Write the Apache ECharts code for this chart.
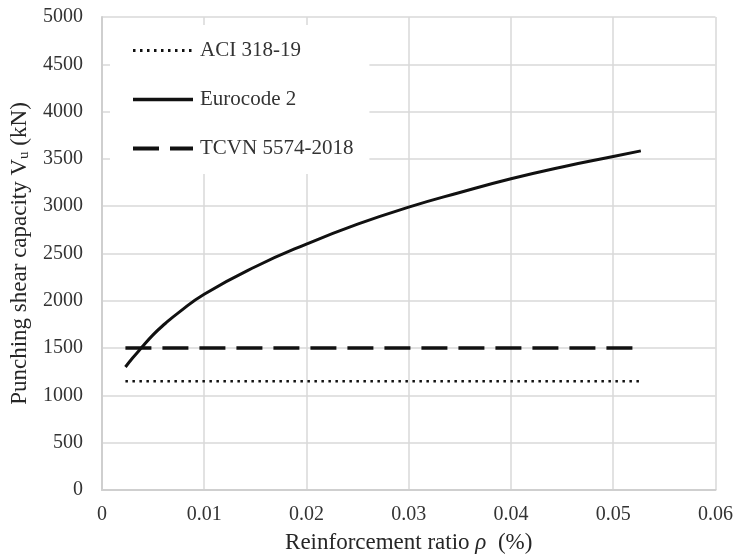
<!DOCTYPE html>
<html>
<head>
<meta charset="utf-8">
<script src="https://cdn.jsdelivr.net/npm/echarts@6/dist/echarts.min.js"></script>
<style>
  html, body { margin: 0; padding: 0; background: #ffffff; }
  #chart { width: 736px; height: 560px; }
</style>
</head>
<body>
<div id="chart"></div>
<script>
// Reinforcement ratio values (x) where each design code was evaluated
const rho = [0.0023, 0.003, 0.0038, 0.005, 0.0062, 0.0075, 0.01, 0.015, 0.02, 0.025, 0.03, 0.035, 0.04, 0.045, 0.05, 0.0527];

// Punching shear capacity per code (kN)
const eurocode2 = [1300, 1395, 1495, 1640, 1760, 1875, 2070, 2360, 2600, 2810, 2990, 3145, 3290, 3415, 3525, 3585];
const aciRange = [0.0023, 0.0527];
const aci318 = [1150, 1150];
const tcvnRange = [0.0023, 0.0527];
const tcvn5574 = [1500, 1500];

const seriesNames = ['ACI 318-19', 'Eurocode 2', 'TCVN 5574-2018'];

// Axis tick labels
const xTickLabels = ['0', '0.01', '0.02', '0.03', '0.04', '0.05', '0.06'];
const yTickLabels = ['0', '500', '1000', '1500', '2000', '2500', '3000', '3500', '4000', '4500', '5000'];

const pairs = (xs, ys) => xs.map((x, i) => [x, ys[i]]);

const serif = "'Liberation Serif', 'Times New Roman', serif";
const gridColor = '#d9d9d9';
const textColor = '#333333';
const ink = '#111111';
// point markers are never drawn; keep the legend's marker dot invisible too
const noMarker = { color: 'rgba(0,0,0,0)' };

const chart = echarts.init(document.getElementById('chart'), null, { renderer: 'canvas' });

chart.setOption({
  animation: false,
  backgroundColor: '#ffffff',
  grid: { left: 101, right: 18, top: 17, bottom: 70 },
  legend: {
    orient: 'vertical',
    left: 110,
    top: 25,
    data: [
      { name: seriesNames[0], lineStyle: { width: 3 } },
      { name: seriesNames[1], lineStyle: { width: 3.5 } },
      { name: seriesNames[2], lineStyle: { width: 4 } }
    ],
    backgroundColor: '#ffffff',
    padding: [15, 16, 15, 21],
    itemWidth: 60,
    itemHeight: 2,
    itemGap: 28,
    selectedMode: false,
    textStyle: { fontFamily: serif, fontSize: 21, color: textColor, lineHeight: 21, padding: [0, 0, 0, 2] }
  },
  xAxis: {
    type: 'value',
    min: 0,
    max: 0.06,
    interval: 0.01,
    name: '{a|Reinforcement ratio }{i|ρ}{a|  (%)}',
    nameLocation: 'middle',
    nameGap: 41,
    nameTextStyle: {
      rich: {
        a: { fontFamily: serif, fontSize: 23, color: '#262626' },
        i: { fontFamily: serif, fontSize: 23, fontStyle: 'italic', color: '#262626' }
      }
    },
    axisLine: { show: true, lineStyle: { color: '#cfcfcf', width: 2 } },
    axisTick: { show: false },
    splitLine: { show: true, lineStyle: { color: gridColor, width: 1.5 } },
    axisLabel: {
      margin: 15,
      fontFamily: serif,
      fontSize: 20,
      color: textColor,
      formatter: (v) => xTickLabels[Math.round(v / 0.01)]
    }
  },
  yAxis: {
    type: 'value',
    min: 0,
    max: 5000,
    interval: 500,
    name: '{a|Punching shear capacity V}{s|u}{a| (kN)}',
    nameLocation: 'middle',
    nameRotate: 90,
    nameGap: 56,
    nameTextStyle: {
      rich: {
        a: { fontFamily: serif, fontSize: 23, color: '#262626' },
        s: { fontFamily: serif, fontSize: 15, color: '#262626', padding: [10, 0, 0, 0] }
      }
    },
    axisLine: { show: true, lineStyle: { color: '#cfcfcf', width: 2 } },
    axisTick: { show: false },
    splitLine: { show: true, lineStyle: { color: gridColor, width: 1.5 } },
    axisLabel: {
      margin: 19,
      fontFamily: serif,
      fontSize: 20,
      color: textColor,
      formatter: (v) => yTickLabels[Math.round(v / 500)]
    }
  },
  series: [
    {
      name: seriesNames[0],
      type: 'line',
      data: pairs(aciRange, aci318),
      symbol: 'none',
      lineStyle: { color: ink, width: 2.5, type: [2.5, 4.5] },
      itemStyle: noMarker
    },
    {
      name: seriesNames[1],
      type: 'line',
      data: pairs(rho, eurocode2),
      symbol: 'none',
      smooth: 0.5,
      lineStyle: { color: ink, width: 3, type: 'solid' },
      itemStyle: noMarker
    },
    {
      name: seriesNames[2],
      type: 'line',
      data: pairs(tcvnRange, tcvn5574),
      symbol: 'none',
      lineStyle: { color: ink, width: 3.5, type: [26, 11] },
      itemStyle: noMarker
    }
  ]
});
</script>
</body>
</html>
